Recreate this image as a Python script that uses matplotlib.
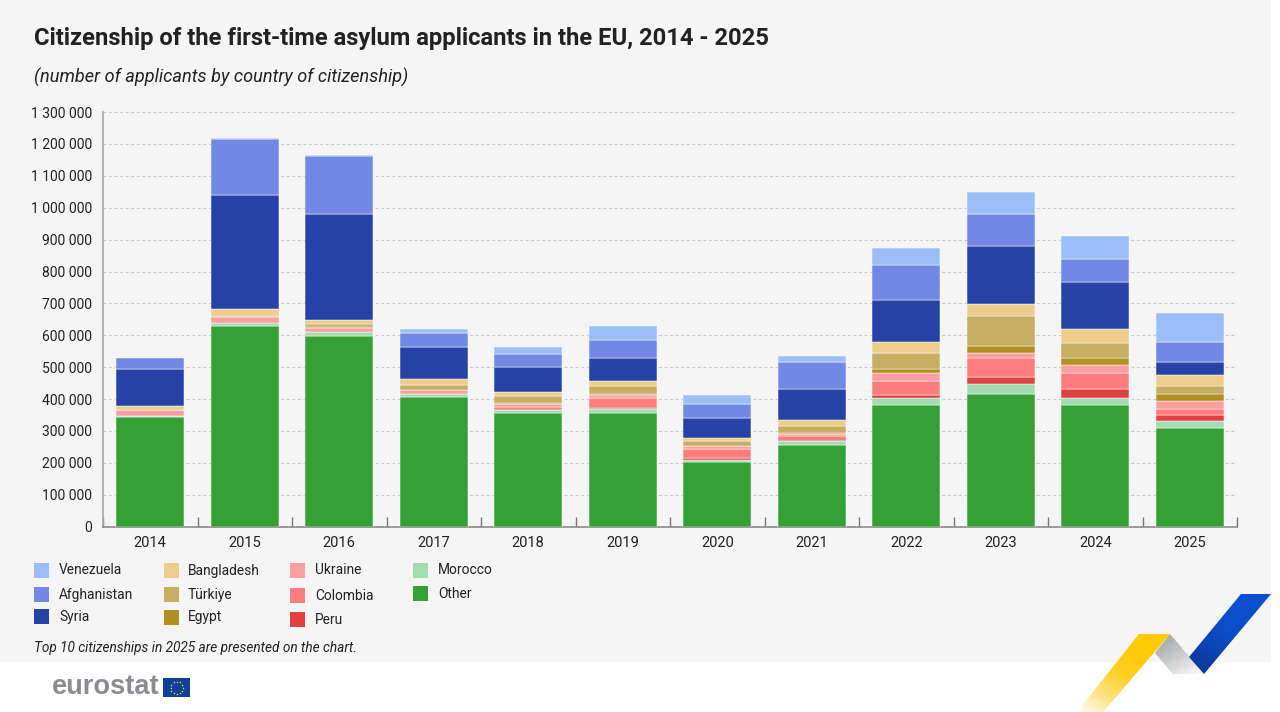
import numpy as np
import matplotlib
matplotlib.use('Agg')
import matplotlib.pyplot as plt
from matplotlib.patches import Polygon, Rectangle
from matplotlib.colors import LinearSegmentedColormap

plt.rcParams['font.family'] = ['Roboto', 'DejaVu Sans']

years = [2014, 2015, 2016, 2017, 2018, 2019, 2020, 2021, 2022, 2023, 2024, 2025]

# thousands of applicants, stacked from the bottom up
other      = [343, 630, 599, 406, 355, 357, 202, 255, 380, 417, 380, 310]
morocco    = [5, 7, 11, 9, 10, 11, 8, 14, 22, 29, 24, 20]
peru       = [0, 0, 0, 0, 1, 5, 4, 1, 11, 22, 27, 19]
colombia   = [0, 0, 1, 1, 10, 30, 31, 14, 44, 62, 50, 21]
ukraine    = [17, 21, 11, 12, 8, 11, 7, 7, 26, 15, 26, 23]
egypt      = [0, 0, 3, 1, 3, 2, 2, 2, 12, 23, 23, 23]
turkiye    = [1, 1, 9, 15, 22, 25, 15, 23, 49, 92, 47, 25]
bangladesh = [11, 22, 15, 20, 12, 15, 10, 19, 34, 38, 43, 34]
syria      = [117, 360, 332, 100, 81, 72, 62, 98, 133, 183, 146, 40]
afghanistan = [36, 175, 181, 42, 39, 56, 44, 83, 110, 100, 72, 64]
venezuela  = [0, 1, 4, 14, 23, 45, 29, 20, 52, 68, 74, 90]

series = [
    ('Other', other, '#34a035'),
    ('Morocco', morocco, '#a2dcb0'),
    ('Peru', peru, '#e04040'),
    ('Colombia', colombia, '#ff7d7f'),
    ('Ukraine', ukraine, '#ff9e9e'),
    ('Egypt', egypt, '#b09020'),
    ('Türkiye', turkiye, '#c6ae62'),
    ('Bangladesh', bangladesh, '#ecce8a'),
    ('Syria', syria, '#2642a6'),
    ('Afghanistan', afghanistan, '#7189e4'),
    ('Venezuela', venezuela, '#9bbdf8'),
]
colors = {name: c for name, _, c in series}

# legend columns: swatch x, label x, names with their swatch tops
legend_cols = [
    (34, 59, [('Venezuela', 563), ('Afghanistan', 587), ('Syria', 609)]),
    (164, 188, [('Bangladesh', 563), ('Türkiye', 587), ('Egypt', 610)]),
    (290, 315, [('Ukraine', 563), ('Colombia', 588), ('Peru', 612)]),
    (413, 438, [('Morocco', 563), ('Other', 586)]),
]

W, H = 1280, 712
BG = '#f5f5f5'
TEXT = '#222222'

fig = plt.figure(figsize=(W / 100, H / 100), dpi=100, facecolor='white')

# full-figure layer in pixel coordinates for background, legend and branding
bg = fig.add_axes([0, 0, 1, 1], zorder=0)
bg.set_xlim(0, W)
bg.set_ylim(H, 0)
bg.axis('off')
bg.add_patch(Rectangle((0, 0), 1271, 661.5, fc=BG, ec='none'))


def gradient_poly(ax, pts, cols, angle):
    """Fill a polygon with a linear gradient running along angle (degrees)."""
    pts = np.array(pts, dtype=float)
    x0, x1, y0, y1 = pts[:, 0].min(), pts[:, 0].max(), pts[:, 1].min(), pts[:, 1].max()
    xx, yy = np.meshgrid(np.linspace(0, 1, 200), np.linspace(0, 1, 200))
    a = np.deg2rad(angle)
    g = xx * np.cos(a) + yy * np.sin(a)
    g = (g - g.min()) / (g.max() - g.min())
    cmap = LinearSegmentedColormap.from_list('ribbon', cols)
    im = ax.imshow(g, extent=(x0, x1, y1, y0), cmap=cmap, aspect='auto', zorder=3)
    clip = Polygon(pts, closed=True, transform=ax.transData, fc='none', ec='none')
    ax.add_patch(clip)
    im.set_clip_path(clip)


gradient_poly(bg, [(1170, 634), (1204, 674), (1173, 674), (1155, 653)],
              ['#9c9d9f', '#c9cacb', '#ffffff'], 55)
gradient_poly(bg, [(1139, 634), (1170, 634), (1103, 712), (1077, 712)],
              ['#ffcb05', '#ffcb05', '#ffcf20', '#ffe27f', '#ffffff'], 128)
gradient_poly(bg, [(1241, 594), (1271, 594), (1204, 674), (1189, 657)],
              ['#0c50d2', '#0c4cc6', '#0a3795'], 125)
bg.set_xlim(0, W)
bg.set_ylim(H, 0)

ax = fig.add_axes([103 / W, 1 - 526.7 / H, (1237 - 103) / W, (526.7 - 112) / H], zorder=1)
ax.patch.set_alpha(0)

x = np.arange(len(years))
bottom = np.zeros(len(years))
for name, vals, col in series:
    vals = np.array(vals) * 1000
    # empty segments get no edge, otherwise they show up as a stray white line
    widths = [0.35 if v > 0 else 0 for v in vals]
    ax.bar(x, vals, 0.72, bottom=bottom, color=col, edgecolor='#fbfbfb', linewidth=widths, zorder=3)
    bottom += vals

ax.set_xlim(-0.5, 11.5)
ax.set_ylim(0, 1300000)
yticks = np.arange(0, 1300001, 100000)
ax.set_yticks(yticks)
ax.set_yticklabels([f'{v:,}'.replace(',', ' ') for v in yticks], fontsize=10, color=TEXT)
ax.set_xticks(x)
ax.set_xticklabels(years, fontsize=10.5, color=TEXT)
ax.set_xticks(np.arange(-0.5, 12), minor=True)
ax.tick_params(axis='x', which='major', length=0, pad=6.5)
ax.tick_params(axis='x', which='minor', length=7, width=1, color='#777777', direction='in')
ax.tick_params(axis='y', length=0, pad=8)
ax.grid(axis='y', color='#c8c8c8', linestyle=(0, (2.5, 2.5)), linewidth=0.8, zorder=0)
ax.set_axisbelow(True)
for side in ['top', 'right']:
    ax.spines[side].set_visible(False)
ax.spines['left'].set_color('#a6a6a6')
ax.spines['left'].set_linewidth(1.2)
ax.spines['bottom'].set_color('#8c8c8c')
ax.spines['bottom'].set_linewidth(1.2)

bg.text(34, 39, 'Citizenship of the first-time asylum applicants in the EU, 2014 - 2025',
        fontsize=17.1, fontweight='bold', color=TEXT, va='center')
bg.text(34, 77, '(number of applicants by country of citizenship)',
        fontsize=13.1, style='italic', color=TEXT, va='center')

for sx, tx, rows in legend_cols:
    for name, top in rows:
        bg.add_patch(Rectangle((sx, top), 15, 15, fc=colors[name], ec='none'))
        bg.text(tx, top + 7.5, name, fontsize=9.9, color=TEXT, va='center')

bg.text(34, 648, 'Top 10 citizenships in 2025 are presented on the chart.',
        fontsize=9.8, style='italic', color=TEXT, va='center')

# eurostat wordmark and flag
bg.text(52, 687, 'eurostat', fontsize=19.6, fontweight='bold', color='#8a8c8f', va='center',
        family=['Liberation Sans', 'DejaVu Sans'])
bg.add_patch(Rectangle((163, 678), 27, 19, fc='#0f3f9e', ec='none', zorder=2))
ang = np.deg2rad(np.arange(0, 360, 30))
bg.scatter(176.5 + 6 * np.cos(ang), 687.5 + 6 * np.sin(ang), s=1.2, c='#ffd617', linewidths=0, zorder=3)

fig.savefig('out.png', dpi=100, facecolor='white')
